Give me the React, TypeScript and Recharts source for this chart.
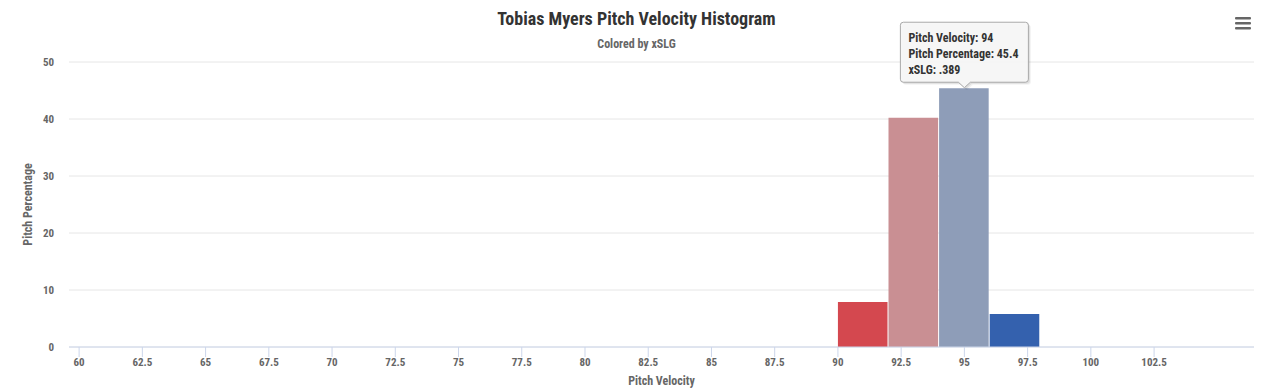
import React from 'react';
import { ComposedChart, Bar, Cell, XAxis, YAxis, CartesianGrid, ReferenceDot } from 'recharts';

// ---- data ----
const binStarts = [90, 92, 94, 96];
const pitchPercentages = [7.9, 40.2, 45.4, 5.8];
const xslgLabels = ['.452', '.421', '.389', '.301'];
const binColors = ['#d4484f', '#c98f93', '#8e9db8', '#3461ae'];
const xTicks = [60, 62.5, 65, 67.5, 70, 72.5, 75, 77.5, 80, 82.5, 85, 87.5, 90, 92.5, 95, 97.5, 100, 102.5];
const yTicks = [0, 10, 20, 30, 40, 50];
const binWidth = 2;
const highlightIndex = 2;

// ---- layout ----
const W = 1273;
const H = 392;
const X_DOMAIN: [number, number] = [59.6, 106.45];
const Y_DOMAIN: [number, number] = [0, 50];
const MARGIN = { top: 62, right: 19, bottom: 0, left: 0 };
const Y_AXIS_W = 69;
const X_AXIS_H = 45;
const FONT = '"Roboto Condensed", "Liberation Sans Narrow", "DejaVu Sans Condensed", Roboto, sans-serif';

const plotW = W - MARGIN.left - MARGIN.right - Y_AXIS_W;
const pxPerUnit = plotW / (X_DOMAIN[1] - X_DOMAIN[0]);
const barPx = binWidth * pxPerUnit - 1;

const data = binStarts.map((s, i) => ({
  start: s,
  center: s + binWidth / 2,
  value: pitchPercentages[i],
  xslg: xslgLabels[i],
  color: binColors[i],
}));

const TooltipShape = (props: any) => {
  const { cx, cy } = props;
  const d = data[highlightIndex];
  const hw = 64;
  const bottom = cy - 6;
  const top = cy - 66;
  const tipY = cy - 0.5;
  const path = `M ${cx - hw + 3} ${top} L ${cx + hw - 3} ${top} Q ${cx + hw} ${top} ${cx + hw} ${top + 3} L ${cx + hw} ${bottom - 3} Q ${cx + hw} ${bottom} ${cx + hw - 3} ${bottom} L ${cx + 6} ${bottom} L ${cx} ${tipY} L ${cx - 6} ${bottom} L ${cx - hw + 3} ${bottom} Q ${cx - hw} ${bottom} ${cx - hw} ${bottom - 3} L ${cx - hw} ${top + 3} Q ${cx - hw} ${top} ${cx - hw + 3} ${top} Z`;
  const tx = cx - hw + 8;
  const ts = { fontFamily: FONT, fontSize: 12, fontWeight: 'bold' as const, fill: '#333333' };
  return (
    <g>
      <path d={path} fill="rgba(0,0,0,0.08)" transform="translate(1.5,1.5)" />
      <path d={path} fill="rgba(0,0,0,0.05)" transform="translate(2.5,2.5)" />
      <path d={path} fill="rgba(247,247,247,0.95)" stroke="#a8a8a8" strokeWidth={1} />
      <text x={tx} y={cy - 46} style={ts}>Pitch Velocity: {d.start}</text>
      <text x={tx} y={cy - 30} style={ts}>Pitch Percentage: {d.value}</text>
      <text x={tx} y={cy - 14} style={ts}>xSLG: {d.xslg}</text>
    </g>
  );
};

export default function App() {
  return (
    <div style={{ position: 'absolute', left: 0, top: 0, width: W, height: H, background: '#fff', fontFamily: FONT }}>
      <ComposedChart width={W} height={H} data={data} margin={MARGIN}>
        <CartesianGrid vertical={false} stroke="#e6e6e6" />
        <XAxis
          dataKey="center"
          type="number"
          domain={X_DOMAIN}
          ticks={xTicks}
          allowDataOverflow
          interval={0}
          height={X_AXIS_H}
          stroke="#ccd6eb"
          tickSize={10}
          tickMargin={1}
          tick={{ fill: '#666666', fontSize: 11, fontWeight: 'bold', fontFamily: FONT }}
        />
        <YAxis
          type="number"
          domain={Y_DOMAIN}
          ticks={yTicks}
          width={Y_AXIS_W}
          axisLine={false}
          tickLine={false}
          tickSize={0}
          tickMargin={15}
          tick={{ fill: '#666666', fontSize: 11, fontWeight: 'bold', fontFamily: FONT }}
        />
        <Bar dataKey="value" barSize={barPx} isAnimationActive={false}>
          {data.map((d, i) => (
            <Cell key={i} fill={d.color} />
          ))}
        </Bar>
        <ReferenceDot
          x={data[highlightIndex].center}
          y={data[highlightIndex].value}
          ifOverflow="visible"
          shape={TooltipShape}
        />
      </ComposedChart>
      <svg width={W} height={H} style={{ position: 'absolute', left: 0, top: 0, pointerEvents: 'none' }}>
        <text x={636.5} y={25} textAnchor="middle" style={{ fontFamily: FONT, fontSize: 18, fontWeight: 'bold', fill: '#333333' }}>
          Tobias Myers Pitch Velocity Histogram
        </text>
        <text x={636.5} y={48} textAnchor="middle" style={{ fontFamily: FONT, fontSize: 12, fontWeight: 'bold', fill: '#666666' }}>
          Colored by xSLG
        </text>
        <text x={661.5} y={385} textAnchor="middle" style={{ fontFamily: FONT, fontSize: 12, fontWeight: 'bold', fill: '#666666' }}>
          Pitch Velocity
        </text>
        <text
          x={32}
          y={204.5}
          textAnchor="middle"
          transform="rotate(-90 32 204.5)"
          style={{ fontFamily: FONT, fontSize: 12, fontWeight: 'bold', fill: '#666666' }}
        >
          Pitch Percentage
        </text>
        <g fill="#666666">
          <rect x={1235} y={17} width={16} height={2.5} rx={1} />
          <rect x={1235} y={22} width={16} height={2.5} rx={1} />
          <rect x={1235} y={27} width={16} height={2.5} rx={1} />
        </g>
      </svg>
    </div>
  );
}
